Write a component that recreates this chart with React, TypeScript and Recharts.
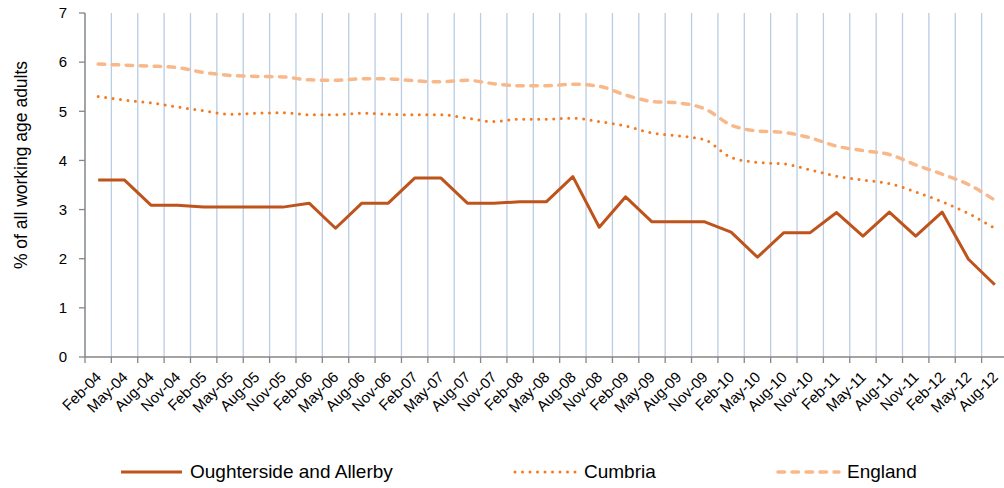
import { CartesianGrid, Line, LineChart, XAxis, YAxis } from "recharts"

const months = [
  "Feb-04", "May-04", "Aug-04", "Nov-04",
  "Feb-05", "May-05", "Aug-05", "Nov-05",
  "Feb-06", "May-06", "Aug-06", "Nov-06",
  "Feb-07", "May-07", "Aug-07", "Nov-07",
  "Feb-08", "May-08", "Aug-08", "Nov-08",
  "Feb-09", "May-09", "Aug-09", "Nov-09",
  "Feb-10", "May-10", "Aug-10", "Nov-10",
  "Feb-11", "May-11", "Aug-11", "Nov-11",
  "Feb-12", "May-12", "Aug-12",
]

const oughterside = [
  3.6, 3.6, 3.09, 3.09, 3.05, 3.05, 3.05, 3.05, 3.13, 2.62,
  3.13, 3.13, 3.64, 3.64, 3.13, 3.13, 3.16, 3.16, 3.67, 2.64,
  3.26, 2.75, 2.75, 2.75, 2.54, 2.03, 2.53, 2.53, 2.94, 2.46,
  2.95, 2.46, 2.95, 1.99, 1.47,
]

const cumbria = [
  5.3, 5.23, 5.17, 5.09, 5.01, 4.94, 4.96, 4.97, 4.93, 4.93,
  4.96, 4.94, 4.93, 4.93, 4.86, 4.79, 4.84, 4.84, 4.86, 4.79,
  4.7, 4.56, 4.5, 4.42, 4.06, 3.96, 3.93, 3.81, 3.68, 3.6,
  3.53, 3.36, 3.16, 2.92, 2.62,
]

const england = [
  5.96, 5.94, 5.92, 5.89, 5.79, 5.73, 5.71, 5.7, 5.64, 5.63,
  5.66, 5.66, 5.62, 5.6, 5.63, 5.56, 5.52, 5.52, 5.55, 5.51,
  5.33, 5.2, 5.17, 5.05, 4.72, 4.6, 4.57, 4.46, 4.29, 4.2,
  4.12, 3.91, 3.72, 3.51, 3.19,
]

const yTicks = [0, 1, 2, 3, 4, 5, 6, 7]

// each month sits in the middle of its slot, gridlines/ticks on slot edges
const data = months.map((m, i) => ({
  x: i + 0.5,
  month: m,
  oughterside: oughterside[i],
  cumbria: cumbria[i],
  england: england[i],
}))
const edges = months.map((_, i) => i).concat(months.length)

const series = [
  { key: "oughterside", name: "Oughterside and Allerby", color: "#BE531C", width: 3, dash: undefined, curve: "linear" },
  { key: "cumbria", name: "Cumbria", color: "#F47A20", width: 3, dash: "0 7.5", curve: "monotone" },
  { key: "england", name: "England", color: "#F9B88A", width: 3.5, dash: "6.5 7.5", curve: "monotone" },
] as const

const W = 1012
const H = 488
const Y_W = 85
const M_RIGHT = 4
const BAND = (W - Y_W - M_RIGHT) / months.length
const LEGEND_TOP = 458
const LEGEND_LEFT = [119, 513, 776]
const AXIS = "#868686"

function MonthTick(props: any) {
  const { x, y, payload } = props
  const label = months[payload.value]
  if (!label) return null
  const tx = x + BAND / 2 + 4
  const ty = y + 15
  return (
    <text
      x={tx}
      y={ty}
      transform={`rotate(-45, ${tx}, ${ty})`}
      textAnchor="end"
      fontSize={15}
      fill="#000"
    >
      {label}
    </text>
  )
}

function ChartLegend() {
  return (
    <div style={{ position: "absolute", left: 0, top: LEGEND_TOP, width: 1004, height: 30 }}>
      {series.map((s, i) => (
        <div
          key={s.key}
          style={{
            position: "absolute",
            left: LEGEND_LEFT[i],
            top: 3,
            display: "flex",
            alignItems: "center",
            fontSize: 19,
            lineHeight: "22px",
            color: "#000",
            whiteSpace: "nowrap",
          }}
        >
          <svg width={65} height={10}>
            <line
              x1={2}
              y1={5}
              x2={63}
              y2={5}
              stroke={s.color}
              strokeWidth={s.width}
              strokeDasharray={s.dash}
              strokeLinecap={s.dash ? "round" : "butt"}
            />
          </svg>
          <span style={{ marginLeft: 6 }}>{s.name}</span>
        </div>
      ))}
    </div>
  )
}

export default function App() {
  return (
    <div
      style={{
        position: "fixed",
        left: 0,
        top: 0,
        width: 1004,
        height: H,
        overflow: "hidden",
        background: "#fff",
        fontFamily: "'Liberation Sans', Arial, sans-serif",
      }}
    >
      <LineChart
        width={W}
        height={H}
        data={data}
        margin={{ top: 13, right: M_RIGHT, bottom: 30, left: 0 }}
      >
        <CartesianGrid horizontal={false} stroke="#B9CDE5" strokeWidth={1.3} />
        <XAxis
          type="number"
          dataKey="x"
          domain={[0, months.length]}
          ticks={edges}
          interval={0}
          height={101}
          tickSize={6}
          tickMargin={0}
          tick={MonthTick}
          axisLine={{ stroke: AXIS, strokeWidth: 1.3 }}
          tickLine={{ stroke: AXIS, strokeWidth: 1.3 }}
        />
        <YAxis
          domain={[0, 7]}
          ticks={yTicks}
          interval={0}
          width={Y_W}
          tickSize={6}
          tickMargin={12}
          tick={{ fontSize: 15, fill: "#000" }}
          axisLine={{ stroke: AXIS, strokeWidth: 1.3 }}
          tickLine={{ stroke: AXIS, strokeWidth: 1.3 }}
          label={{
            value: "% of all working age adults",
            angle: -90,
            position: "insideLeft",
            offset: 21,
            dy: -20,
            style: { textAnchor: "middle", fontSize: 17.5, fill: "#000" },
          }}
        />
        {[...series].reverse().map((s) => (
          <Line
            key={s.key}
            type={s.curve}
            dataKey={s.key}
            name={s.name}
            stroke={s.color}
            strokeWidth={s.width}
            strokeDasharray={s.dash}
            strokeLinecap={s.dash ? "round" : "butt"}
            strokeLinejoin="round"
            dot={false}
            activeDot={false}
            isAnimationActive={false}
          />
        ))}
      </LineChart>
      <ChartLegend />
    </div>
  )
}
